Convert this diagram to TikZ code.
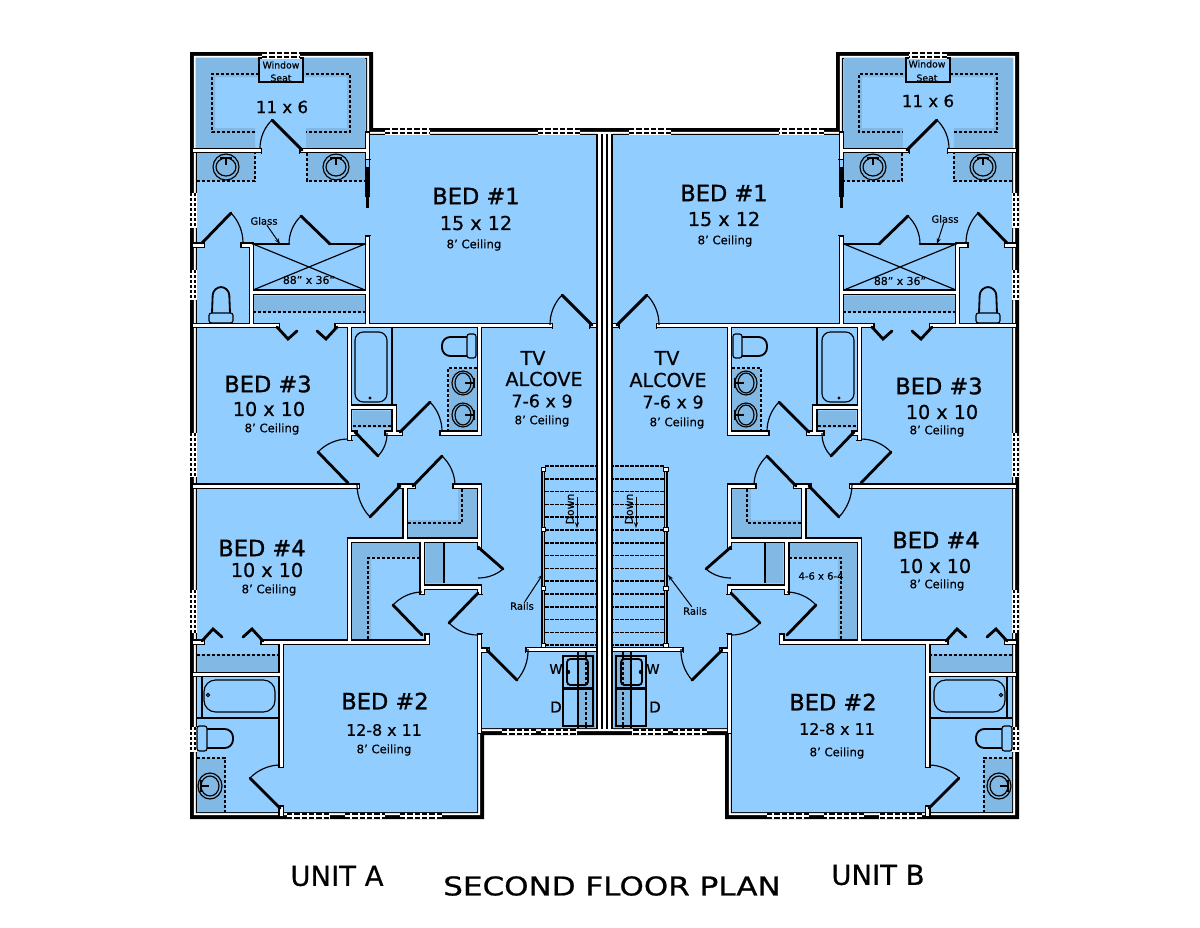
\documentclass[tikz,border=0pt]{standalone}
\usepackage{fontspec}
\setmainfont[FakeBold=0.5]{DejaVu Sans}
\newfontfamily\widefont[FakeStretch=1.2,FakeBold=0.8]{DejaVu Sans}
\newfontfamily\namefont[FakeBold=1.2]{DejaVu Sans}
\usetikzlibrary{arrows.meta, calc}

\definecolor{roomblue}{RGB}{146,205,255}
\definecolor{shelfblue}{RGB}{130,184,228}

\tikzset{
    iwall/.style={draw=black, line width=0.75pt, double=white, double distance=1.8pt, line cap=rect},
    wallend/.style={line width=0.75pt},
    leaf/.style={line width=1.7pt, line cap=round},
    swing/.style={line width=0.7pt},
    fixture/.style={line width=0.7pt},
    bowlline/.style={line width=1.1pt},
    shelf/.style={fill=shelfblue},
    shelfedge/.style={line width=0.7pt, dash pattern=on 2pt off 1pt},
    treadline/.style={line width=0.9pt, dash pattern=on 2.2pt off 0.8pt},
    pane/.style={line width=1pt, dash pattern=on 3.2pt off 1.2pt},
    sidepane/.style={line width=1.1pt, dash pattern=on 1.8pt off 1.2pt},
    post/.style={draw=black, fill=white, line width=0.5pt},
    roomname/.style={inner sep=0pt, font=\namefont\fontsize{13.5}{16}\selectfont},
    roomsize/.style={inner sep=0pt, font=\fontsize{11.5}{13}\selectfont},
    ceiling/.style={inner sep=0pt, font=\fontsize{7}{8}\selectfont},
    note/.style={inner sep=0pt, font=\fontsize{6}{7}\selectfont},
    sheettitle/.style={inner sep=0pt, font=\widefont\fontsize{15.5}{18}\selectfont},
    pointer/.style={line width=0.6pt, -{Stealth[length=3.5pt,width=2.5pt]}}
}

% hinge, tip of the door, jamb
\newcommand{\doorleaf}[3]{
    \draw[leaf] (#1) -- (#2);
    \draw[swing] (#2) .. controls ($0.735*(#2)+0.375*(#3)-0.11*(#1)$) and ($0.735*(#3)+0.375*(#2)-0.11*(#1)$) .. (#3);
}
% centre, outer and inner radii
\newcommand{\basin}[5]{
    \draw[fixture] (#1) ellipse ({#2} and {#3});
    \draw[fixture] (#1) ellipse ({#4} and {#5});
}

\newcommand{\unitplan}{
    % Shelves
    \fill[shelf] (196,58) -- (365,58) -- (365,148) -- (306,148) -- (306,128) -- (347,128) -- (347,77) -- (215,77) -- (215,128) -- (255,128) -- (255,148) -- (196,148) -- cycle;
    \draw[shelfedge] (255,132) -- (212,132) -- (212,74) -- (350,74) -- (350,132) -- (306,132);
    \fill[shelf] (197,153) rectangle (255,181);
    \fill[shelf] (307,153) rectangle (365,181);
    \draw[shelfedge] (197,181) -- (255,181) -- (255,153);
    \draw[shelfedge] (307,153) -- (307,181) -- (365,181);
    \fill[shelf] (253,296) rectangle (365,312);
    \draw[shelfedge] (253,312) -- (365,312);
    \fill[shelf] (449,369) rectangle (477,430);
    \draw[shelfedge] (477,368) -- (448,368) -- (448,431);
    \fill[shelf] (353,411) rectangle (391,428);
    \draw[shelfedge] (353,426) -- (391,426);
    \fill[shelf] (458,489) -- (477,489) -- (477,537) -- (408,537) -- (408,520) -- (458,520) -- cycle;
    \draw[shelfedge] (462,489) -- (462,523) -- (408,523);
    \fill[shelf] (352,543) -- (420,543) -- (420,557) -- (371,557) -- (371,640) -- (352,640) -- cycle;
    \draw[shelfedge] (420,558) -- (368,558) -- (368,640);
    \fill[shelf] (426,543) rectangle (444,583);
    \draw[fixture] (444,543) -- (444,583);
    \fill[shelf] (197,654) rectangle (278,672);
    \draw[shelfedge] (197,655) -- (278,655);
    \fill[shelf] (197,758) rectangle (225,812);
    \draw[shelfedge] (197,758) -- (225,758) -- (225,812);
    \fill[shelf] (579,652) rectangle (595,728);
    \draw[shelfedge] (586,652) -- (586,728);
    \draw[fixture] (578,652) -- (578,728);
    % Window seat
    \draw[fixture, fill=roomblue] (259,58) rectangle (303,82);
    % Shower
    \draw[fixture] (253,244) -- (365,290) (253,290) -- (365,244) (253,290) -- (365,290);
    % Tubs
    \draw[fixture] (392,328) -- (392,405);
    \draw[fixture, rounded corners=5pt] (355,332) rectangle (387,402);
    \fill (370,398) circle (1.6);
    \draw[fixture] (197,718) -- (278,718) (202,677) -- (202,718);
    \draw[fixture, rounded corners=7pt] (204,680) rectangle (275,712);
    \draw[fixture] (208,695) circle (1.6);
    % Basins
    \basin{226,167}{13}{13}{10}{9}
    \basin{336,167}{13}{13}{10}{9}
    \draw[fixture] (220,158) -- (232,158) (226,158) -- (226,165);
    \draw[fixture] (330,158) -- (342,158) (336,158) -- (336,165);
    \basin{463,383}{11}{12}{8}{10}
    \basin{463,415}{11}{12}{8}{10}
    \draw[fixture] (474,378) -- (474,388) (474,383) -- (465,383);
    \draw[fixture] (474,410) -- (474,420) (474,415) -- (465,415);
    \basin{210,786}{12}{13}{9}{10}
    \draw[fixture] (201,780) -- (201,792) (201,786) -- (209,786);
    % Laundry
    \draw[fixture] (563,656) rectangle (593,688) (563,689) rectangle (593,726);
    \draw[bowlline, rounded corners=2pt] (567,659) rectangle (588,685);
    \fill (568,672) circle (2.2);
    \draw[line width=1.3pt] (593,656) -- (593,726);
    % Walls
    \draw[iwall] (194,150.5) -- (259,150.5) (302,150.5) -- (367.5,150.5)
        (367.5,134) -- (367.5,157) (367.5,238) -- (367.5,325.5)
        (194,325.5) -- (277,325.5) (337,325.5) -- (550,325.5) (592,325.5) -- (597,325.5)
        (251.5,245) -- (251.5,325.5) (243,245) -- (251.5,245) (194,245) -- (202,245)
        (251.5,292) -- (367.5,292)
        (349.5,325.5) -- (349.5,438) (349.5,433) -- (355,433)
        (349.5,407) -- (394,407) -- (394,433) (387,433) -- (400,433)
        (479.5,325.5) -- (479.5,433) -- (442,433)
        (194,486) -- (357,486) (400,486) -- (413,486) (405,486) -- (405,540)
        (455,486) -- (479.5,486) -- (479.5,547)
        (349.5,540) -- (479.5,540) (349.5,540) -- (349.5,642)
        (422,540) -- (422,592) (422,587) -- (479.5,587) -- (479.5,592)
        (263,642) -- (427,642) -- (427,636) (194,642) -- (202,642)
        (281,642) -- (281,765) (281,808) -- (281,814)
        (194,674.5) -- (281,674.5)
        (479.5,636) -- (479.5,731) (479.5,650) -- (487,650)
        (528,649.5) -- (598,649.5);
    % Wall ends
    \foreach \xa/\ya in {261.7/150.5, 299.3/150.5, 279.7/325.5, 334.3/325.5, 552.7/325.5, 589.3/325.5, 240.3/245, 204.7/245, 357.7/433, 384.3/433, 402.7/433, 439.3/433, 359.7/486, 397.3/486, 415.7/486, 452.3/486, 260.3/642, 204.7/642, 489.7/650, 525.3/649.5}{
        \draw[wallend] (\xa,{\ya-3}) -- (\xa,{\ya+3});
    }
    \foreach \xa/\ya in {367.5/159.7, 367.5/235.3, 479.5/549.7, 281/767.7, 281/805.3, 349.5/440.7, 422/594.7, 479.5/594.7, 427/633.3, 479.5/633.3}{
        \draw[wallend] ({\xa-3},\ya) -- ({\xa+3},\ya);
    }
    \draw[fixture] (365.5,157) -- (365.5,197) (369.5,157) -- (369.5,197);
    \draw[line width=1.4pt] (367.5,167) -- (367.5,208);
    % Doors
    \doorleaf{302,150}{272,120}{260,149}
    \doorleaf{202,243}{231,213}{243,243}
    \doorleaf{330,244}{301,216}{289,244}
    \doorleaf{400,432}{430,402}{442,432}
    \doorleaf{355,432}{378,456}{387,433}
    \doorleaf{348,483}{318,452}{348,439}
    \doorleaf{400,486}{370,517}{357,485}
    \doorleaf{413,486}{442,456}{455,485}
    \doorleaf{478,547}{503,569}{478,578}
    \doorleaf{422,635}{393,605}{422,592}
    \doorleaf{478,593}{449,623}{478,635}
    \doorleaf{280,808}{250,778}{280,765}
    \doorleaf{487,650}{517,680}{528,649}
    \doorleaf{592,325}{562,295}{550,325}
    \draw[leaf] (253,244) -- (289,244) (330,244) -- (365,244);
    \draw[leaf] (277,327) -- (288,339) -- (297,331) (337,327) -- (326,339) -- (317,331);
    \draw[leaf] (263,641) -- (252,629) -- (243,637) (202,641) -- (213,629) -- (222,637);
    % Windows
    \foreach \xa/\xb/\ya in {262/300/52, 385/430/128, 538/580/128, 287/330/812.5, 345/385/812.5, 400/442/812.5, 502/536/728.5, 541/577/728.5}{
        \fill[white] (\xa,\ya) rectangle (\xb,{\ya+6.5});
        \draw[pane] (\xa,{\ya+1.2}) -- (\xb,{\ya+1.2}) (\xa,{\ya+5.3}) -- (\xb,{\ya+5.3});
    }
    \foreach \ya/\yb in {193/228, 270/300, 433/477, 590/633, 727/752}{
        \fill[white] (190,\ya) rectangle (196.5,\yb);
        \draw[sidepane] (191.2,\ya) -- (191.2,\yb) (195.3,\ya) -- (195.3,\yb);
    }
    % Toilets
    \draw[fixture, fill=roomblue, rounded corners=1.5pt] (209,313) rectangle (233,323);
    \draw[bowlline, rounded corners=5pt] (212,313) -- (213,287) -- (229,287) -- (230,313);
    \draw[fixture, fill=roomblue, rounded corners=1.5pt] (197,726) rectangle (207,751);
    \draw[bowlline, rounded corners=5pt] (207,729) -- (233,729) -- (233,748) -- (207,748);
    \draw[fixture, fill=roomblue, rounded corners=1.5pt] (467,334) rectangle (476,358);
    \draw[bowlline, rounded corners=5pt] (467,337) -- (442,337) -- (442,356) -- (467,356);
    % Stairs
    \foreach \k in {0,...,14}{
        \draw[treadline] (545,{466+12.8*\k}) -- (597,{466+12.8*\k});
    }
    \draw[fixture] (542,467) -- (542,645) (544.5,467) -- (544.5,645);
    \foreach \ya in {469,529,588,645}{
        \draw[post] (541,{\ya-2}) rectangle (545.5,{\ya+2});
    }
}

\begin{document}
\begin{tikzpicture}[x=0.6pt, y=-0.6pt]
\useasboundingbox (0,0) rectangle (1200,927);

% Outer walls
\foreach \d/\tone in {0/black, 3.8/white, 5.8/black, 7/roomblue}{
    \fill[\tone] ({190+\d},{52+\d}) -- ({373-\d},{52+\d}) -- ({373-\d},{128+\d}) -- ({836+\d},{128+\d}) -- ({836+\d},{52+\d}) -- ({1019-\d},{52+\d}) -- ({1019-\d},{819-\d}) -- ({725+\d},{819-\d}) -- ({725+\d},{735-\d}) -- ({484-\d},{735-\d}) -- ({484-\d},{819-\d}) -- ({190+\d},{819-\d}) -- cycle;
}

% Both units
\unitplan
\begin{scope}[xshift=725.4pt, xscale=-1]
    \unitplan
\end{scope}

% Party wall
\fill[white] (596.5,133) rectangle (612.5,731);
\draw[fixture] (597,134) -- (597,729) (612,134) -- (612,729);
\draw[line width=1.2pt] (602,134) -- (602,729) (607,134) -- (607,729);

% Unit A
\node[note, font=\fontsize{5.6}{6}\selectfont] (seatAa) at (281,65) {Window};
\node[note, font=\fontsize{5.6}{6}\selectfont] (seatAb) at (281,78) {Seat};
\node[roomsize, font=\fontsize{10}{12}\selectfont] (closetA) at (282,107) {11 x 6};
\node[roomname] (bedoneA) at (476,196) {BED \#1};
\node[roomsize] (bedoneAsize) at (476,223) {15 x 12};
\node[ceiling] (bedoneAceil) at (474,245) {8' Ceiling};
\node[note] (glassA) at (264,221) {Glass};
\coordinate (glassAend) at (280,244);
\draw[pointer] (glassA) -- (glassAend);
\node[note, font=\fontsize{6.5}{7}\selectfont] (showerA) at (309,280) {88" x 36"};
\node[roomname] (bedthreeA) at (268,384) {BED \#3};
\node[roomsize] (bedthreeAsize) at (269,409) {10 x 10};
\node[ceiling] (bedthreeAceil) at (272,429) {8' Ceiling};
\node[roomsize] (tvA) at (533,358) {TV};
\node[roomsize] (alcoveA) at (544,379) {ALCOVE};
\node[roomsize, font=\fontsize{10.5}{12}\selectfont] (alcoveAsize) at (542,401) {7-6 x 9};
\node[ceiling] (alcoveAceil) at (542,421) {8' Ceiling};
\node[note, rotate=90, font=\fontsize{6.5}{7}\selectfont] (downA) at (570,509) {Down};
\coordinate (downAtop) at (577,497);
\coordinate (downAend) at (577,528);
\draw[pointer] (downAtop) -- (downAend);
\node[roomname] (bedfourA) at (262,548) {BED \#4};
\node[roomsize] (bedfourAsize) at (267,570) {10 x 10};
\node[ceiling] (bedfourAceil) at (269,590) {8' Ceiling};
\node[note] (railsA) at (522,606) {Rails};
\coordinate (railsAend) at (543,574);
\draw[pointer] (railsA) -- (railsAend);
\node[roomname] (bedtwoA) at (385,701) {BED \#2};
\node[roomsize, font=\fontsize{9.5}{12}\selectfont] (bedtwoAsize) at (384,730) {12-8 x 11};
\node[ceiling] (bedtwoAceil) at (384,750) {8' Ceiling};
\node[roomsize, font=\fontsize{8}{9}\selectfont] (washerA) at (556,669) {W};
\node[roomsize, font=\fontsize{9}{9}\selectfont] (dryerA) at (556,707) {D};

% Unit B
\node[note, font=\fontsize{5.6}{6}\selectfont] (seatBa) at (927,64) {Window};
\node[note, font=\fontsize{5.6}{6}\selectfont] (seatBb) at (927,78) {Seat};
\node[roomsize, font=\fontsize{10}{12}\selectfont] (closetB) at (928,101) {11 x 6};
\node[roomname] (bedoneB) at (724,193) {BED \#1};
\node[roomsize] (bedoneBsize) at (724,219) {15 x 12};
\node[ceiling] (bedoneBceil) at (725,241) {8' Ceiling};
\node[note] (glassB) at (945,219) {Glass};
\coordinate (glassBend) at (937,244);
\draw[pointer] (glassB) -- (glassBend);
\node[note, font=\fontsize{6.5}{7}\selectfont] (showerB) at (900,281) {88" x 36"};
\node[roomname] (bedthreeB) at (939,386) {BED \#3};
\node[roomsize] (bedthreeBsize) at (942,412) {10 x 10};
\node[ceiling] (bedthreeBceil) at (937,431) {8' Ceiling};
\node[roomsize] (tvB) at (667,358) {TV};
\node[roomsize] (alcoveB) at (668,380) {ALCOVE};
\node[roomsize, font=\fontsize{10.5}{12}\selectfont] (alcoveBsize) at (673,402) {7-6 x 9};
\node[ceiling] (alcoveBceil) at (677,423) {8' Ceiling};
\node[note, rotate=90, font=\fontsize{6.5}{7}\selectfont] (downB) at (629,509) {Down};
\coordinate (downBtop) at (636,497);
\coordinate (downBend) at (636,528);
\draw[pointer] (downBtop) -- (downBend);
\node[roomname] (bedfourB) at (936,540) {BED \#4};
\node[roomsize] (bedfourBsize) at (935,566) {10 x 10};
\node[ceiling] (bedfourBceil) at (937,585) {8' Ceiling};
\node[note] (closetBsize) at (821,576) {4-6 x 6-4};
\node[note] (railsB) at (695,611) {Rails};
\coordinate (railsBend) at (668,575);
\draw[pointer] (railsB) -- (railsBend);
\node[roomname] (bedtwoB) at (833,702) {BED \#2};
\node[roomsize, font=\fontsize{9.5}{12}\selectfont] (bedtwoBsize) at (837,729) {12-8 x 11};
\node[ceiling] (bedtwoBceil) at (837,753) {8' Ceiling};
\node[roomsize, font=\fontsize{8}{9}\selectfont] (washerB) at (653,669) {W};
\node[roomsize, font=\fontsize{9}{9}\selectfont] (dryerB) at (655,707) {D};

% Titles
\node[inner sep=0pt, font=\fontsize{16.5}{18}\selectfont] (unitA) at (337,876) {UNIT A};
\node[inner sep=0pt, font=\fontsize{16.5}{18}\selectfont] (unitB) at (878,875) {UNIT B};
\node[sheettitle] (plantitle) at (612,886) {SECOND FLOOR PLAN};

\end{tikzpicture}
\end{document}
